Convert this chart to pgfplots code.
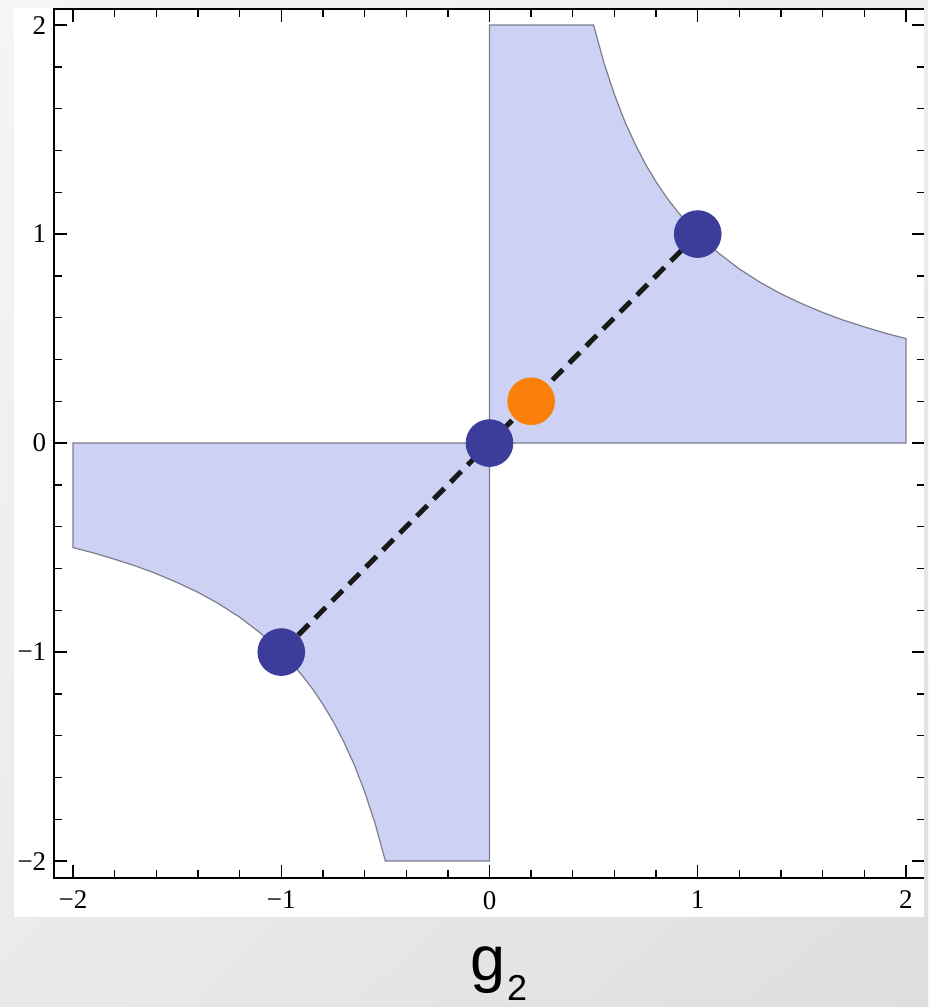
\documentclass[border=0pt]{standalone}
\usepackage{fontspec}
\setmainfont{Liberation Serif}
\newfontfamily\sansfont{Liberation Sans}
\usepackage{pgfplots}
\pgfplotsset{compat=1.18}
\usetikzlibrary{shadings}
\definecolor{regfill}{RGB}{205,210,245}
\definecolor{regedge}{RGB}{125,125,140}
\definecolor{dotblue}{RGB}{60,60,155}
\definecolor{dotorange}{RGB}{250,128,10}
\definecolor{bgUL}{RGB}{245,245,245}
\definecolor{bgUR}{RGB}{238,238,238}
\definecolor{bgLL}{RGB}{234,234,234}
\definecolor{bgLR}{RGB}{222,222,222}
\begin{document}
\begin{tikzpicture}
\shade[upper left=bgUL, upper right=bgUR, lower left=bgLL, lower right=bgLR] (0,0) rectangle (464pt,503.5pt);
\fill[white] (7pt,45pt) rectangle (462pt,499.5pt);
\begin{axis}[
  at={(27.15pt,64.5pt)}, anchor=south west,
  scale only axis, width=435.2pt, height=434.5pt,
  xmin=-2.09, xmax=2.09, ymin=-2.081, ymax=2.077,
  xtick={-2,-1,0,1,2}, ytick={-2,-1,0,1,2},
  xticklabels={−2,−1,0,1,2}, yticklabels={−2,−1,0,1,2},
  minor tick num=4,
  major tick length=6.5pt, minor tick length=4pt,
  tick style={black, line width=0.7pt},
  axis line style={line width=1pt},
  ticklabel style={font=\fontsize{13.5}{13.5}\selectfont},
  xticklabel style={yshift=-3pt},
  yticklabel style={xshift=-0.5pt},
  axis on top,
]
\addplot[fill=regfill, draw=regedge, line width=0.6pt] coordinates {
(0,0)(0,2)(0.5,2)(0.55,1.818)(0.6,1.667)(0.65,1.538)(0.7,1.429)(0.75,1.333)(0.8,1.25)(0.85,1.176)(0.9,1.111)(0.95,1.053)(1,1)(1.1,0.909)(1.2,0.833)(1.3,0.769)(1.4,0.714)(1.5,0.667)(1.6,0.625)(1.7,0.588)(1.8,0.556)(1.9,0.526)(2,0.5)(2,0)} -- cycle;
\addplot[fill=regfill, draw=regedge, line width=0.6pt] coordinates {
(0,0)(0,-2)(-0.5,-2)(-0.55,-1.818)(-0.6,-1.667)(-0.65,-1.538)(-0.7,-1.429)(-0.75,-1.333)(-0.8,-1.25)(-0.85,-1.176)(-0.9,-1.111)(-0.95,-1.053)(-1,-1)(-1.1,-0.909)(-1.2,-0.833)(-1.3,-0.769)(-1.4,-0.714)(-1.5,-0.667)(-1.6,-0.625)(-1.7,-0.588)(-1.8,-0.556)(-1.9,-0.526)(-2,-0.5)(-2,0)} -- cycle;
\addplot[line width=2.5pt, dash pattern=on 7.5pt off 4.5pt, color=black!90] coordinates {(-1,-1)(1,1)};
\addplot[only marks, mark=*, mark size=11.7pt, color=dotblue, mark options={fill=dotblue, draw=dotblue}] coordinates {(-1,-1)(0,0)(1,1)};
\addplot[only marks, mark=*, mark size=11.7pt, color=dotorange, mark options={fill=dotorange, draw=dotorange}] coordinates {(0.2,0.2)};
\end{axis}
\shade[top color=bgUR, bottom color=bgLR] (462pt,0) rectangle (464pt,503.5pt);
\node[anchor=base west, inner sep=0pt] at (235pt,13pt) {\sansfont\fontsize{31.5}{31.5}\selectfont g};
\node[anchor=base west, inner sep=0pt] at (253.3pt,3pt) {\sansfont\fontsize{18}{18}\selectfont 2};
\pgfresetboundingbox
\useasboundingbox (0,0) rectangle (464pt,503.5pt);
\end{tikzpicture}
\end{document}
